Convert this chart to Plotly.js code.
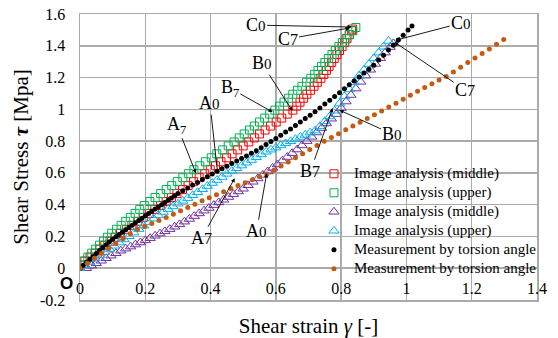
<!DOCTYPE html>
<html><head><meta charset="utf-8">
<script src="https://cdn.plot.ly/plotly-3.0.1.min.js"></script>
<style>html,body{margin:0;padding:0;background:#fff}#chart{width:558px;height:338px}</style>
</head><body><div id="chart"></div>
<script>
// ---- data ----
const seriesNames = ['Image analysis (middle)','Image analysis (upper)','Image analysis (middle)','Image analysis (upper)','Measurement by torsion angle','Measurement by torsion angle'];

const redX = [0.000,0.015,0.031,0.046,0.061,0.076,0.092,0.107,0.124,0.142,0.159,0.177,0.194,0.212,0.229,0.247,0.264,0.280,0.297,0.314,0.331,0.348,0.365,0.382,0.399,0.415,0.432,0.449,0.466,0.483,0.500,0.517,0.534,0.550,0.567,0.584,0.601,0.618,0.635,0.652,0.664,0.674,0.685,0.695,0.706,0.717,0.727,0.738,0.747,0.755,0.763,0.771,0.779,0.787,0.795,0.803,0.811,0.818,0.825,0.832,0.835];
const redY = [0.020,0.045,0.070,0.095,0.120,0.145,0.170,0.195,0.220,0.245,0.270,0.295,0.320,0.345,0.370,0.395,0.420,0.445,0.470,0.495,0.520,0.545,0.570,0.595,0.620,0.645,0.670,0.695,0.720,0.745,0.770,0.795,0.820,0.845,0.870,0.895,0.920,0.945,0.970,0.995,1.020,1.045,1.070,1.095,1.120,1.145,1.170,1.195,1.220,1.245,1.270,1.295,1.320,1.345,1.370,1.395,1.420,1.445,1.470,1.495,1.505];

const greenX = [0.000,0.012,0.024,0.036,0.048,0.060,0.072,0.084,0.097,0.112,0.126,0.140,0.154,0.169,0.183,0.197,0.214,0.230,0.247,0.264,0.281,0.298,0.315,0.332,0.349,0.367,0.384,0.402,0.419,0.437,0.454,0.472,0.488,0.503,0.519,0.534,0.550,0.566,0.581,0.597,0.611,0.625,0.639,0.652,0.666,0.680,0.694,0.707,0.719,0.729,0.740,0.750,0.761,0.772,0.782,0.793,0.804,0.815,0.825,0.836,0.845];
const greenY = [0.020,0.045,0.070,0.095,0.120,0.145,0.170,0.195,0.220,0.245,0.270,0.295,0.320,0.345,0.370,0.395,0.420,0.445,0.470,0.495,0.520,0.545,0.570,0.595,0.620,0.645,0.670,0.695,0.720,0.745,0.770,0.795,0.820,0.845,0.870,0.895,0.920,0.945,0.970,0.995,1.020,1.045,1.070,1.095,1.120,1.145,1.170,1.195,1.220,1.245,1.270,1.295,1.320,1.345,1.370,1.395,1.420,1.445,1.470,1.495,1.515];

const purpleX = [0.020,0.035,0.050,0.065,0.080,0.095,0.110,0.125,0.140,0.155,0.170,0.185,0.200,0.215,0.230,0.245,0.260,0.275,0.290,0.305,0.320,0.335,0.350,0.365,0.380,0.395,0.410,0.425,0.440,0.455,0.470,0.485,0.500,0.515,0.530,0.545,0.560,0.575,0.590,0.605,0.620,0.635,0.650,0.665,0.680,0.695,0.710,0.725,0.740,0.755,0.770,0.785,0.800,0.815,0.830,0.845,0.860,0.875,0.890,0.905,0.920,0.935,0.950,0.960];
const purpleY = [0.000,0.016,0.031,0.047,0.063,0.079,0.094,0.110,0.123,0.136,0.149,0.162,0.175,0.189,0.204,0.218,0.232,0.246,0.261,0.276,0.293,0.310,0.328,0.345,0.362,0.379,0.397,0.414,0.431,0.448,0.466,0.483,0.500,0.522,0.544,0.565,0.587,0.609,0.631,0.653,0.677,0.700,0.724,0.747,0.773,0.800,0.827,0.854,0.882,0.911,0.941,0.970,1.008,1.049,1.090,1.131,1.173,1.212,1.249,1.286,1.322,1.357,1.392,1.415];

const cyanX = [0.000,0.015,0.030,0.045,0.060,0.075,0.090,0.105,0.120,0.135,0.150,0.165,0.180,0.195,0.210,0.225,0.240,0.255,0.270,0.285,0.300,0.315,0.330,0.345,0.360,0.375,0.390,0.405,0.420,0.435,0.450,0.465,0.480,0.495,0.510,0.525,0.540,0.555,0.570,0.585,0.600,0.615,0.630,0.645,0.660,0.675,0.690,0.705,0.720,0.735,0.750,0.765,0.780,0.795,0.810,0.825,0.840,0.855,0.870,0.885,0.900,0.915,0.930,0.945];
const cyanY = [0.000,0.020,0.040,0.060,0.080,0.101,0.121,0.141,0.161,0.181,0.201,0.224,0.246,0.268,0.290,0.312,0.334,0.354,0.372,0.389,0.406,0.424,0.441,0.459,0.478,0.497,0.517,0.536,0.555,0.574,0.594,0.612,0.629,0.646,0.664,0.681,0.698,0.716,0.733,0.746,0.759,0.773,0.786,0.799,0.812,0.826,0.839,0.853,0.866,0.893,0.924,0.955,0.991,1.036,1.081,1.125,1.170,1.212,1.248,1.285,1.321,1.357,1.394,1.430];

const blackX = [0.000,0.010,0.020,0.030,0.040,0.050,0.060,0.070,0.080,0.090,0.100,0.110,0.120,0.130,0.140,0.150,0.160,0.170,0.180,0.190,0.200,0.210,0.220,0.230,0.240,0.250,0.260,0.270,0.280,0.290,0.300,0.315,0.330,0.345,0.360,0.375,0.390,0.405,0.420,0.435,0.450,0.465,0.480,0.495,0.510,0.525,0.540,0.555,0.570,0.585,0.600,0.615,0.630,0.645,0.660,0.675,0.690,0.705,0.720,0.735,0.750,0.765,0.780,0.795,0.810,0.825,0.840,0.855,0.870,0.885,0.900,0.915,0.930,0.945,0.960,0.975,0.990,1.005,1.017];
const blackY = [0.000,0.019,0.037,0.056,0.074,0.093,0.111,0.130,0.148,0.167,0.183,0.198,0.213,0.227,0.242,0.257,0.271,0.286,0.301,0.315,0.330,0.344,0.358,0.372,0.386,0.400,0.414,0.428,0.442,0.456,0.470,0.488,0.505,0.523,0.540,0.558,0.575,0.593,0.610,0.626,0.642,0.659,0.675,0.691,0.707,0.723,0.740,0.758,0.778,0.798,0.817,0.837,0.857,0.877,0.899,0.920,0.942,0.963,0.985,1.009,1.033,1.057,1.081,1.105,1.130,1.154,1.179,1.203,1.228,1.252,1.278,1.310,1.341,1.373,1.404,1.436,1.467,1.499,1.524];

const orangeX = [0.000,0.022,0.044,0.066,0.088,0.110,0.132,0.154,0.176,0.198,0.220,0.242,0.264,0.286,0.308,0.330,0.352,0.374,0.396,0.418,0.440,0.462,0.484,0.506,0.528,0.550,0.572,0.594,0.616,0.638,0.660,0.682,0.704,0.726,0.748,0.770,0.792,0.814,0.836,0.858,0.880,0.902,0.924,0.946,0.968,0.990,1.012,1.034,1.056,1.078,1.100,1.122,1.144,1.166,1.188,1.210,1.232,1.254,1.276,1.298];
const orangeY = [0.000,0.031,0.062,0.093,0.124,0.155,0.186,0.217,0.245,0.263,0.282,0.300,0.319,0.340,0.361,0.382,0.403,0.424,0.443,0.463,0.482,0.502,0.520,0.538,0.557,0.575,0.593,0.617,0.643,0.669,0.695,0.721,0.747,0.773,0.799,0.823,0.847,0.871,0.895,0.919,0.943,0.966,0.990,1.015,1.039,1.064,1.089,1.114,1.138,1.161,1.184,1.207,1.235,1.265,1.294,1.323,1.351,1.379,1.409,1.440];

const xTickVals = [0,0.2,0.4,0.6,0.8,1,1.2,1.4];
const xTickText = ['0','0.2','0.4','0.6','0.8','1','1.2','1.4'];
const yTickVals = [-0.2,0,0.2,0.4,0.6,0.8,1,1.2,1.4,1.6];
const yTickText = ['-0.2','0','0.2','0.4','0.6','0.8','1','1.2','1.4','1.6'];

// point labels: text, arrow head (x,y), text centre (x,y)
const labelTexts = ['C<span style="font-size:15px">0</span>','C<span style="font-size:16px">7</span>','B<span style="font-size:15px">0</span>','B<sub>7</sub>','A<span style="font-size:15px">0</span>','A<sub>7</sub>',
                    'C<span style="font-size:15px">0</span>','C<span style="font-size:16px">7</span>','B<span style="font-size:15px">0</span>','B<span style="font-size:16px">7</span>','A<span style="font-size:16px">7</span>','A<span style="font-size:15px">0</span>'];
const labelHeadX = [0.832,0.826,0.651,0.590,0.422,0.355, 0.969,0.963,0.795,0.774,0.474,0.572];
const labelHeadY = [1.518,1.512,0.989,0.983,0.592,0.598, 1.436,1.424,0.995,1.008,0.567,0.598];
const labelTextX = [0.538,0.636,0.557,0.459,0.398,0.297, 1.168,1.180,0.957,0.706,0.373,0.541];
const labelTextY = [1.530,1.443,1.291,1.134,1.039,0.900, 1.543,1.121,0.844,0.611,0.189,0.233];

// ---- chart ----
const serif = 'Liberation Serif, Times New Roman, serif';
const gridCol = '#ababab';
const legendName = n => '<span style="font-size:15px">' + n + '</span>';
const traces = [
  {x:redX, y:redY, name:legendName(seriesNames[0]), mode:'markers', type:'scatter', marker:{symbol:'square-open', size:8, color:'#ff0000', line:{width:1}}},
  {x:greenX, y:greenY, name:legendName(seriesNames[1]), mode:'markers', type:'scatter', marker:{symbol:'square-open', size:8, color:'#00b050', line:{width:1}}},
  {x:purpleX, y:purpleY, name:legendName(seriesNames[2]), mode:'markers', type:'scatter', marker:{symbol:'triangle-up-open', size:9, color:'#7030a0', line:{width:1}}},
  {x:cyanX, y:cyanY, name:legendName(seriesNames[3]), mode:'markers', type:'scatter', marker:{symbol:'triangle-up-open', size:9, color:'#00b0f0', line:{width:1}}},
  {x:blackX, y:blackY, name:legendName(seriesNames[4]), mode:'markers', type:'scatter', marker:{symbol:'circle', size:5, color:'#000000'}},
  {x:orangeX, y:orangeY, name:legendName(seriesNames[5]), mode:'markers', type:'scatter', marker:{symbol:'circle', size:5, color:'#c55a11'}}
];

const annotations = labelTexts.map((t,i)=>({
  text:t, x:labelHeadX[i], y:labelHeadY[i], xref:'x', yref:'y',
  ax:labelTextX[i], ay:labelTextY[i], axref:'x', ayref:'y',
  showarrow:true, arrowhead:2, arrowsize:0.9, arrowwidth:0.9, arrowcolor:'#000',
  font:{family:serif, size:18, color:'#000'}
}));
annotations.push({text:'<b>O</b>', x:-0.0306, y:0.056, xref:'paper', yref:'paper', xanchor:'center', yanchor:'middle', showarrow:false,
  font:{family:'Liberation Sans, Arial, sans-serif', size:17, color:'#000'}});

const layout = {
  width:558, height:338,
  margin:{l:80, r:21, t:14, b:38, pad:0},
  paper_bgcolor:'#ffffff', plot_bgcolor:'#ffffff',
  font:{family:serif, color:'#000', size:16},
  showlegend:true,
  legend:{x:0.512, y:0.492, xanchor:'left', yanchor:'top', bgcolor:'rgba(0,0,0,0)', borderwidth:0,
          font:{family:serif, size:12, color:'#000'}, tracegroupgap:0, itemwidth:30},
  xaxis:{range:[0,1.4], tickmode:'array', tickvals:xTickVals, ticktext:xTickText,
         showgrid:true, gridcolor:gridCol, gridwidth:1.5, zeroline:false,
         showline:true, mirror:true, linecolor:gridCol, linewidth:1.5, ticks:'',
         ticklabelstandoff:-27, tickfont:{family:serif, size:16, color:'#000'},
         title:{text:'Shear strain <i>γ</i> [-]', font:{family:serif, size:21, color:'#000'}}},
  yaxis:{range:[-0.2,1.6], tickmode:'array', tickvals:yTickVals, ticktext:yTickText,
         showgrid:true, gridcolor:gridCol, gridwidth:1.5, zeroline:false,
         showline:true, mirror:true, linecolor:gridCol, linewidth:1.5, ticks:'',
         ticklabelstandoff:10, tickfont:{family:serif, size:16, color:'#000'},
         title:{text:'Shear Stress <b><i>τ</i></b> [Mpa]', font:{family:serif, size:21, color:'#000'}}},
  annotations:annotations
};

Plotly.newPlot('chart', traces, layout, {displayModeBar:false, staticPlot:true});
</script></body></html>
